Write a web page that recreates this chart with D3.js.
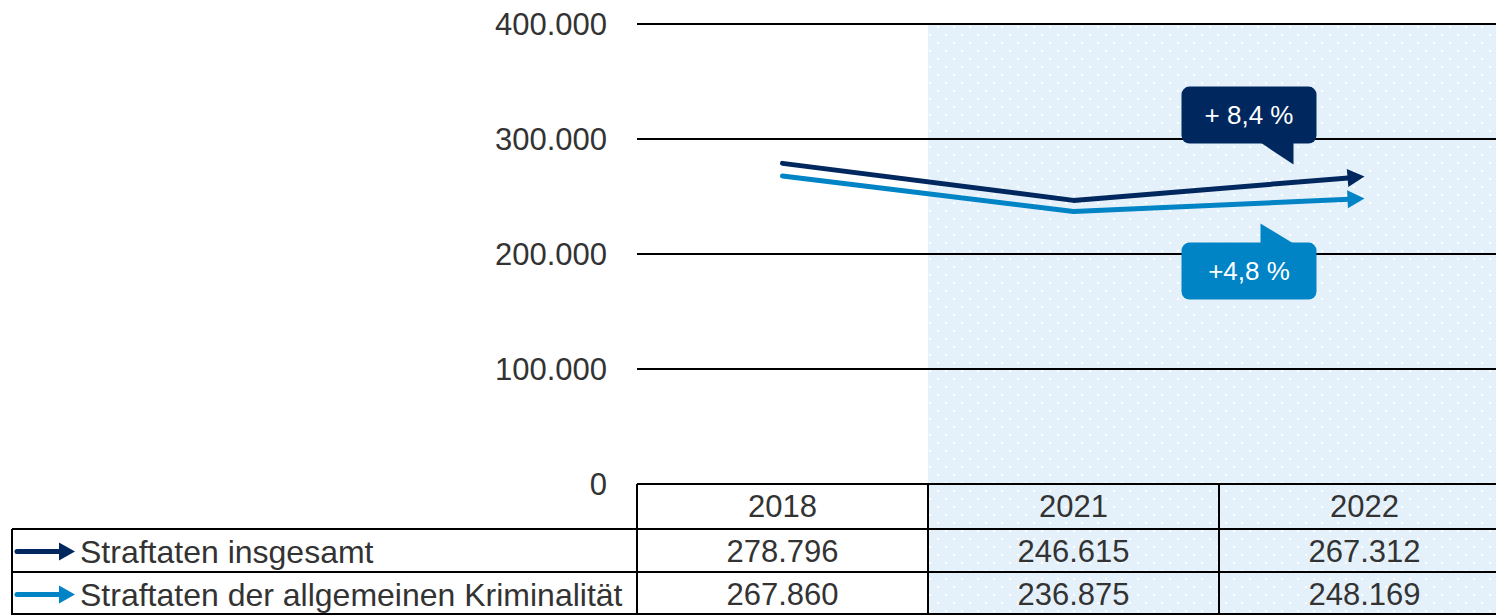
<!DOCTYPE html>
<html>
<head>
<meta charset="utf-8">
<script src="https://cdn.jsdelivr.net/npm/d3@7"></script>
<style>
  body { margin: 0; background: #fff; }
  text { font-family: "Liberation Sans", Arial, sans-serif; fill: #333; }
</style>
</head>
<body>
<div id="chart"></div>
<script>
// data
var years = ["2018", "2021", "2022"];
var seriesNames = ["Straftaten insgesamt", "Straftaten der allgemeinen Kriminalität"];
var insgesamt = [278796, 246615, 267312];
var allgemein = [267860, 236875, 248169];
var changeLabels = ["+ 8,4 %", "+4,8 %"];
var yTicks = [0, 100000, 200000, 300000, 400000];

var svgWidth = 1496, svgHeight = 615;
var colors = ["#00285e", "#0084c6"];
var series = [insgesamt, allgemein];

var de = d3.formatLocale({ decimal: ",", thousands: ".", grouping: [3], currency: ["", " €"] });
var fmt = de.format(",");

var svg = d3.select("#chart").append("svg")
  .attr("width", svgWidth)
  .attr("height", svgHeight);

// scales
var x = d3.scaleBand().domain(years).range([637, 1510]);
var y = d3.scaleLinear().domain([0, 400000]).range([484, 24]);
var xc = function(d) { return x(d) + x.bandwidth() / 2; };

var rowTop = [484, 529, 572, 615];
var tableLeft = 12;

// dotted shading for the recent years
var defs = svg.append("defs");
var pat = defs.append("pattern")
  .attr("id", "dots")
  .attr("patternUnits", "userSpaceOnUse")
  .attr("x", x("2021")).attr("y", 25)
  .attr("width", 16).attr("height", 16);
pat.append("rect").attr("width", 16).attr("height", 16).attr("fill", "#e5f1fa");
pat.append("rect").attr("x", 9).attr("y", 1).attr("width", 2).attr("height", 2).attr("fill", "#fff");
pat.append("rect").attr("x", 1).attr("y", 9).attr("width", 2).attr("height", 2).attr("fill", "#fff");

svg.append("rect")
  .attr("x", x("2021"))
  .attr("y", y(400000) + 1)
  .attr("width", svgWidth - x("2021"))
  .attr("height", svgHeight - y(400000))
  .attr("fill", "url(#dots)");

// gridlines + y labels
svg.append("g").selectAll("line")
  .data(yTicks.filter(function(d) { return d > 0; }))
  .enter().append("line")
  .attr("x1", 637).attr("x2", svgWidth)
  .attr("y1", function(d) { return y(d); })
  .attr("y2", function(d) { return y(d); })
  .attr("stroke", "#000").attr("stroke-width", 2);

svg.append("g").selectAll("text")
  .data(yTicks)
  .enter().append("text")
  .attr("x", 607)
  .attr("y", function(d) { return y(d); })
  .attr("dy", "0.35em")
  .attr("text-anchor", "end")
  .attr("font-size", 31)
  .text(function(d) { return fmt(d); });

// lines
series.forEach(function(vals, i) {
  var pts = vals.map(function(v, j) { return [xc(years[j]), y(v)]; });
  // pull the last point back so the stroke ends under the arrowhead
  var n = pts.length - 1;
  var dx = pts[n][0] - pts[n - 1][0], dy = pts[n][1] - pts[n - 1][1];
  var len = Math.sqrt(dx * dx + dy * dy);
  var back = 10;
  var linePts = pts.slice(0, n).concat([[pts[n][0] - dx / len * back, pts[n][1] - dy / len * back]]);
  svg.append("path")
    .attr("d", d3.line()(linePts))
    .attr("fill", "none")
    .attr("stroke", colors[i])
    .attr("stroke-width", 5)
    .attr("stroke-linecap", "round")
    .attr("stroke-linejoin", "round");
  // arrowhead with tip on the data point
  var ang = Math.atan2(dy, dx) * 180 / Math.PI;
  svg.append("path")
    .attr("d", "M-17,-9 L0,0 L-17,9 Z")
    .attr("transform", "translate(" + pts[n][0] + "," + pts[n][1] + ") rotate(" + ang + ")")
    .attr("fill", colors[i]);
});

// callouts
var last = years[years.length - 1];
var bx = xc(last) - 183, bw = 135, bh = 57;
// dark: above the line, tail pointing down
var top0 = y(insgesamt[2]) - 33 - bh;
var g0 = svg.append("g");
g0.append("rect").attr("x", bx).attr("y", top0).attr("width", bw).attr("height", bh)
  .attr("rx", 8).attr("fill", colors[0]);
g0.append("path")
  .attr("d", "M" + (bx + 79) + "," + (top0 + bh - 1) + " L" + (bx + 112) + "," + (top0 + bh - 1) +
    " L" + (bx + 112) + "," + (top0 + bh + 21) + " Z")
  .attr("fill", colors[0]);
g0.append("text").attr("x", bx + bw / 2).attr("y", top0 + bh / 2).attr("dy", "0.35em")
  .attr("text-anchor", "middle").attr("font-size", 26).style("fill", "#fff")
  .text(changeLabels[0]);

// light: below the line, tail pointing up
var top1 = y(allgemein[2]) + 44;
var g1 = svg.append("g");
g1.append("rect").attr("x", bx).attr("y", top1).attr("width", bw).attr("height", bh)
  .attr("rx", 8).attr("fill", colors[1]);
g1.append("path")
  .attr("d", "M" + (bx + 79) + "," + (top1 + 1) + " L" + (bx + 79) + "," + (top1 - 19) +
    " L" + (bx + 112) + "," + (top1 + 1) + " Z")
  .attr("fill", colors[1]);
g1.append("text").attr("x", bx + bw / 2).attr("y", top1 + bh / 2).attr("dy", "0.35em")
  .attr("text-anchor", "middle").attr("font-size", 26).style("fill", "#fff")
  .text(changeLabels[1]);

// data table
var table = svg.append("g").attr("stroke", "#000").attr("stroke-width", 2);
table.append("line").attr("x1", 637).attr("x2", svgWidth).attr("y1", rowTop[0]).attr("y2", rowTop[0]);
table.append("line").attr("x1", tableLeft).attr("x2", svgWidth).attr("y1", rowTop[1]).attr("y2", rowTop[1]);
table.append("line").attr("x1", tableLeft).attr("x2", svgWidth).attr("y1", rowTop[2]).attr("y2", rowTop[2]);
table.append("line").attr("x1", tableLeft).attr("x2", svgWidth).attr("y1", rowTop[3] - 1).attr("y2", rowTop[3] - 1);
table.append("line").attr("x1", tableLeft).attr("x2", tableLeft).attr("y1", rowTop[1]).attr("y2", rowTop[3]);
years.forEach(function(yr) {
  table.append("line").attr("x1", x(yr)).attr("x2", x(yr)).attr("y1", rowTop[0]).attr("y2", rowTop[3]);
});

svg.append("g").selectAll("text")
  .data(years)
  .enter().append("text")
  .attr("x", xc)
  .attr("y", (rowTop[0] + rowTop[1]) / 2)
  .attr("dy", "0.35em")
  .attr("text-anchor", "middle")
  .attr("font-size", 31)
  .text(function(d) { return d; });

series.forEach(function(vals, i) {
  var cy = (rowTop[i + 1] + rowTop[i + 2]) / 2 + 1;
  svg.append("g").selectAll("text")
    .data(vals)
    .enter().append("text")
    .attr("x", function(d, j) { return xc(years[j]); })
    .attr("y", cy)
    .attr("dy", "0.35em")
    .attr("text-anchor", "middle")
    .attr("font-size", 31)
    .text(function(d) { return fmt(d); });

  // legend arrow
  svg.append("line")
    .attr("x1", 17).attr("x2", 62).attr("y1", cy).attr("y2", cy)
    .attr("stroke", colors[i]).attr("stroke-width", 5).attr("stroke-linecap", "round");
  svg.append("path")
    .attr("d", "M59," + (cy - 9) + " L75," + cy + " L59," + (cy + 9) + " Z")
    .attr("fill", colors[i]);

  svg.append("text")
    .attr("x", 80)
    .attr("y", cy)
    .attr("dy", "0.35em")
    .attr("font-size", 32)
    .text(seriesNames[i]);
});
</script>
</body>
</html>
